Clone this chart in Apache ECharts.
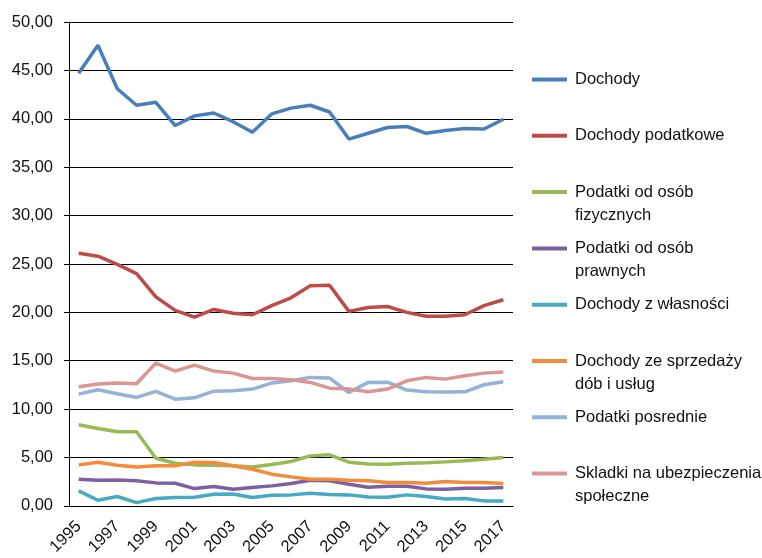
<!DOCTYPE html>
<html>
<head>
<meta charset="utf-8">
<script src="https://cdn.jsdelivr.net/npm/echarts@6/dist/echarts.min.js"></script>
<style>
  html, body { margin: 0; padding: 0; background: #fff; }
  #chart { width: 762px; height: 558px; }
</style>
</head>
<body>
<div id="chart"></div>
<script>
// lata na osi X
const years = ['1995','1996','1997','1998','1999','2000','2001','2002','2003','2004','2005','2006',
    '2007','2008','2009','2010','2011','2012','2013','2014','2015','2016','2017'];

const dochody = [44.7,47.6,43.1,41.4,41.7,39.3,40.3,40.6,39.7,38.6,40.5,41.1,41.4,40.7,37.9,38.5,39.1,39.2,38.5,38.8,39.0,38.95,39.95];
const dochodyPodatkowe = [26.1,25.8,24.95,24.0,21.6,20.2,19.5,20.3,19.9,19.75,20.7,21.5,22.75,22.8,20.1,20.5,20.6,20.0,19.6,19.6,19.75,20.7,21.3];
const podatkiFizyczne = [8.38,8.0,7.66,7.66,4.93,4.41,4.24,4.21,4.14,4.03,4.28,4.59,5.17,5.28,4.52,4.34,4.31,4.41,4.45,4.55,4.66,4.83,5.0];
const podatkiPrawne = [2.76,2.66,2.69,2.59,2.38,2.34,1.79,2.0,1.72,1.9,2.07,2.31,2.66,2.59,2.24,1.93,2.03,2.03,1.76,1.72,1.83,1.83,1.9];
const dochodyWlasnosc = [1.55,0.59,0.97,0.34,0.76,0.86,0.9,1.21,1.24,0.86,1.1,1.14,1.31,1.17,1.14,0.93,0.9,1.14,0.97,0.72,0.76,0.52,0.52];
const dochodySprzedaz = [4.24,4.52,4.21,4.03,4.14,4.14,4.52,4.48,4.14,3.79,3.28,3.0,2.76,2.76,2.66,2.59,2.41,2.41,2.34,2.52,2.41,2.41,2.31];
const podatkiPosrednie = [11.55,12.0,11.59,11.21,11.83,11.03,11.17,11.86,11.9,12.07,12.69,12.93,13.28,13.21,11.72,12.76,12.79,11.97,11.79,11.76,11.79,12.52,12.83];
const skladki = [12.31,12.59,12.69,12.62,14.76,13.93,14.55,13.93,13.72,13.17,13.17,13.03,12.76,12.17,12.07,11.79,12.07,12.93,13.28,13.1,13.45,13.72,13.83];

const seriesNames = ['Dochody','Dochody podatkowe','Podatki od osób fizycznych','Podatki od osób prawnych',
    'Dochody z własności','Dochody ze sprzedaży dób i usług','Podatki posrednie','Skladki na ubezpieczenia społeczne'];
const seriesData = [dochody, dochodyPodatkowe, podatkiFizyczne, podatkiPrawne,
    dochodyWlasnosc, dochodySprzedaz, podatkiPosrednie, skladki];
const colors = ['#4A7EBB','#BE4B48','#98B954','#7D60A0','#46AAC5','#F38B3A','#94B1D8','#D99694'];

// podpisy legendy (łamane jak w oryginale)
const legendLabels = {
    'Dochody': ' \nDochody\n ',
    'Dochody podatkowe': ' \nDochody podatkowe\n ',
    'Podatki od osób fizycznych': ' \nPodatki od osób\nfizycznych',
    'Podatki od osób prawnych': ' \nPodatki od osób\nprawnych',
    'Dochody z własności': ' \nDochody z własności\n ',
    'Dochody ze sprzedaży dób i usług': ' \nDochody ze sprzedaży\ndób i usług',
    'Podatki posrednie': ' \nPodatki posrednie\n ',
    'Skladki na ubezpieczenia społeczne': ' \nSkladki na ubezpieczenia\nspołeczne'
};

const chart = echarts.init(document.getElementById('chart'));
const font = 'Liberation Sans, Arial, sans-serif';

const option = {
    animation: false,
    color: colors,
    grid: { left: 69, right: 249, top: 22, bottom: 51, containLabel: false },
    legend: {
        orient: 'vertical',
        left: 532,
        top: 45,
        padding: 0,
        itemWidth: 35,
        itemHeight: 4,
        itemGap: -12.7,
        icon: 'rect',
        data: seriesNames,
        formatter: function (name) { return legendLabels[name]; },
        textStyle: { fontFamily: font, fontSize: 16.5, color: '#111', lineHeight: 23, padding: [0, 0, 0, 3] }
    },
    xAxis: {
        type: 'category',
        data: years,
        boundaryGap: true,
        axisLine: { lineStyle: { color: '#000', width: 1 } },
        axisTick: { interval: 0, length: 5, lineStyle: { color: '#000' } },
        axisLabel: { interval: 1, rotate: 45, margin: 18, fontFamily: font, fontSize: 16.5, color: '#111' },
        splitLine: { show: false }
    },
    yAxis: {
        type: 'value',
        min: 0,
        max: 50,
        interval: 5,
        axisLine: { show: true, lineStyle: { color: '#000', width: 1 } },
        axisTick: { show: true, length: 5, lineStyle: { color: '#000' } },
        axisLabel: {
            margin: 16, fontFamily: font, fontSize: 16.5, color: '#111',
            formatter: function (v) { return v.toFixed(2).replace('.', ','); }
        },
        splitLine: { show: true, lineStyle: { color: '#000', width: 1 } }
    },
    series: seriesNames.map(function (name, i) {
        return {
            name: name,
            type: 'line',
            data: seriesData[i],
            symbol: 'none',
            lineStyle: { width: 3.5, color: colors[i] },
            itemStyle: { color: colors[i] }
        };
    })
};

chart.setOption(option);
</script>
</body>
</html>
